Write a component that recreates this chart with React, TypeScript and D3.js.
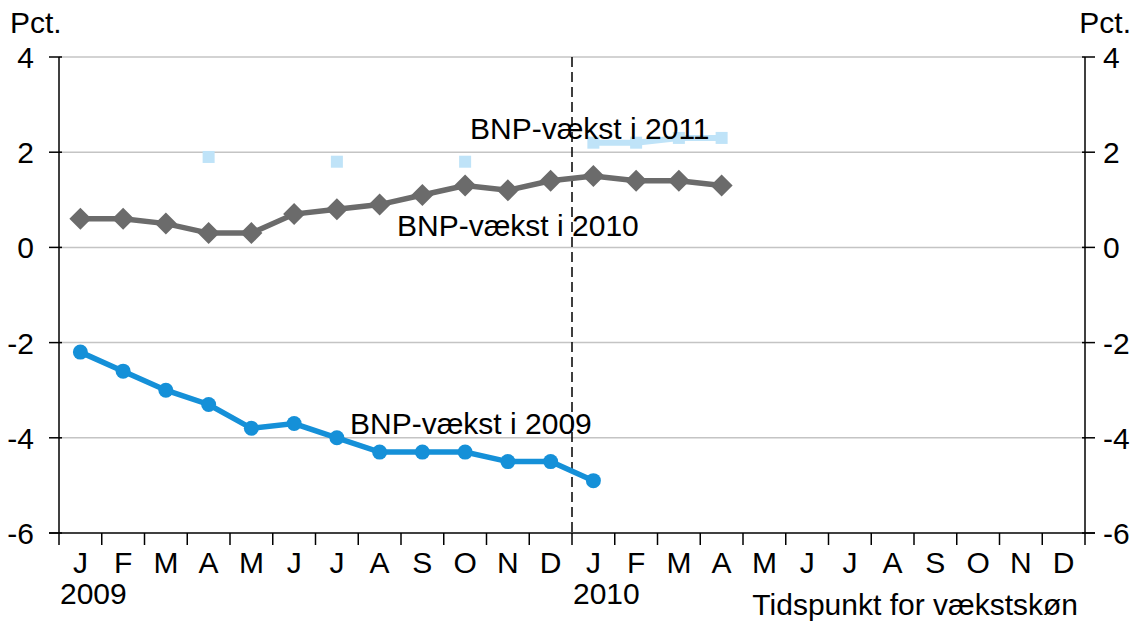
import * as d3 from "d3";

const WIDTH = 1138;
const HEIGHT = 624;
const MARGIN = { top: 57, right: 53, bottom: 91, left: 59 };

const months = ["J", "F", "M", "A", "M", "J", "J", "A", "S", "O", "N", "D"];
const monthLabels = [...months, ...months];
const yearLabels = [
  { index: 0, label: "2009" },
  { index: 12, label: "2010" },
];
const yTicks = [4, 2, 0, -2, -4, -6];

// BNP-vækst i 2009 (Jan 2009 - Jan 2010)
const growth2009 = [-2.2, -2.6, -3.0, -3.3, -3.8, -3.7, -4.0, -4.3, -4.3, -4.3, -4.5, -4.5, -4.9];
// BNP-vækst i 2010 (Jan 2009 - Apr 2010)
const growth2010 = [0.6, 0.6, 0.5, 0.3, 0.3, 0.7, 0.8, 0.9, 1.1, 1.3, 1.2, 1.4, 1.5, 1.4, 1.4, 1.3];
// BNP-vækst i 2011 (sparse until 2010)
const growth2011: (number | null)[] = [null, null, null, 1.9, null, null, 1.8, null, null, 1.8, null, null, 2.2, 2.2, 2.3, 2.3];

const BLUE = "#1590d8";
const GREY = "#6b6b6b";
const LIGHT = "#bfe3f8";
const FONT = "'Liberation Sans', Arial, sans-serif";

export default function App() {
  const x0 = MARGIN.left;
  const x1 = WIDTH - MARGIN.right;
  const y0 = MARGIN.top;
  const bottom = HEIGHT - MARGIN.bottom;

  const xScale = d3
    .scaleBand<number>()
    .domain(d3.range(24))
    .range([x0, x1])
    .padding(0);
  const cx = (i: number) => (xScale(i) ?? 0) + xScale.bandwidth() / 2;

  const yScale = d3.scaleLinear().domain([-6, 4]).range([bottom, y0]);

  const line = d3
    .line<number | null>()
    .defined((d) => d !== null)
    .x((_, i) => cx(i))
    .y((d) => yScale(d as number));

  const splitX = xScale(12) ?? 0;

  const diamond = (x: number, y: number, r: number) =>
    `M${x},${y - r}L${x + r},${y}L${x},${y + r}L${x - r},${y}Z`;

  return (
    <svg
      width={WIDTH}
      height={HEIGHT}
      style={{ position: "absolute", left: 0, top: 0, background: "#fff" }}
      fontFamily={FONT}
    >
      {/* gridlines */}
      {yTicks
        .filter((t) => t !== -6)
        .map((t) => (
          <line key={t} x1={x0} x2={x1} y1={yScale(t)} y2={yScale(t)} stroke="#c4c4c4" strokeWidth={1.5} />
        ))}

      {/* axes */}
      <line x1={x0} x2={x0} y1={y0} y2={bottom} stroke="#000" strokeWidth={1.5} />
      <line x1={x1} x2={x1} y1={y0} y2={bottom} stroke="#000" strokeWidth={1.5} />
      <line x1={x0 - 10} x2={x1 + 10} y1={bottom} y2={bottom} stroke="#000" strokeWidth={1.5} />

      {yTicks.map((t) => (
        <g key={"yt" + t}>
          <line x1={x0 - 10} x2={x0 + 3} y1={yScale(t)} y2={yScale(t)} stroke="#000" strokeWidth={1.5} />
          <line x1={x1 - 3} x2={x1 + 10} y1={yScale(t)} y2={yScale(t)} stroke="#000" strokeWidth={1.5} />
          <text x={34} y={yScale(t) + 11} textAnchor="end" fontSize={30}>
            {t}
          </text>
          <text x={1103} y={yScale(t) + 11} textAnchor="start" fontSize={30}>
            {t}
          </text>
        </g>
      ))}

      {d3.range(25).map((i) => {
        const xp = i < 24 ? xScale(i) ?? 0 : x1;
        return <line key={"xt" + i} x1={xp} x2={xp} y1={bottom} y2={bottom + 12} stroke="#000" strokeWidth={1.5} />;
      })}

      {monthLabels.map((m, i) => (
        <text key={"m" + i} x={cx(i)} y={573} textAnchor="middle" fontSize={30}>
          {m}
        </text>
      ))}
      {yearLabels.map((d) => (
        <text key={d.label} x={(xScale(d.index) ?? 0) + 1} y={604} fontSize={30}>
          {d.label}
        </text>
      ))}
      <text x={1078} y={615} textAnchor="end" fontSize={30}>
        Tidspunkt for vækstskøn
      </text>
      <text x={10} y={33} fontSize={30}>
        Pct.
      </text>
      <text x={1131} y={33} textAnchor="end" fontSize={30}>
        Pct.
      </text>

      {/* split line */}
      <line x1={splitX} x2={splitX} y1={y0} y2={bottom} stroke="#000" strokeWidth={1.5} strokeDasharray="10,5" />

      {/* 2011 */}
      <path d={line(growth2011) ?? ""} fill="none" stroke={LIGHT} strokeWidth={6} />
      {growth2011.map((v, i) =>
        v === null ? null : (
          <rect key={"s" + i} x={cx(i) - 6} y={yScale(v) - 6} width={12} height={12} fill={LIGHT} />
        )
      )}

      {/* 2010 */}
      <path d={line(growth2010) ?? ""} fill="none" stroke={GREY} strokeWidth={5.5} />
      {growth2010.map((v, i) => (
        <path key={"d" + i} d={diamond(cx(i), yScale(v), 11)} fill={GREY} />
      ))}

      {/* 2009 */}
      <path d={line(growth2009) ?? ""} fill="none" stroke={BLUE} strokeWidth={5.5} />
      {growth2009.map((v, i) => (
        <circle key={"c" + i} cx={cx(i)} cy={yScale(v)} r={7.5} fill={BLUE} />
      ))}

      {/* labels */}
      <text x={470} y={139} fontSize={30}>
        BNP-vækst i 2011
      </text>
      <text x={397} y={236} fontSize={30}>
        BNP-vækst i 2010
      </text>
      <text x={350} y={434} fontSize={30}>
        BNP-vækst i 2009
      </text>
    </svg>
  );
}
